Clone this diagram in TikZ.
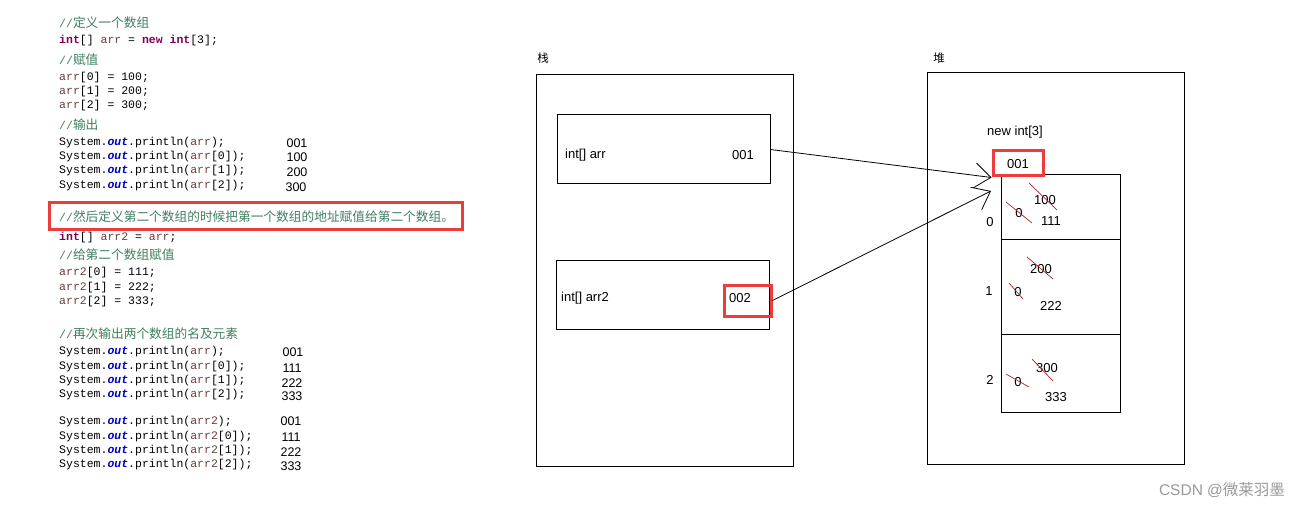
\documentclass[tikz,border=0pt]{standalone}
\usepackage{fontspec}
\setmainfont{Liberation Sans}
\setmonofont{Liberation Mono}
\newfontfamily\cjk{Noto Sans CJK SC}
\usetikzlibrary{arrows.meta,positioning}

\definecolor{cmtgreen}{HTML}{3F7F5F}
\definecolor{kwpurple}{HTML}{7F0055}
\definecolor{fieldblue}{HTML}{0000C0}
\definecolor{varbrown}{HTML}{6A3E3E}
\definecolor{hlred}{HTML}{EE3B3B}
\definecolor{strikered}{HTML}{B22222}

\newcommand{\kw}[1]{\textcolor{kwpurple}{\bfseries #1}}
\newcommand{\fld}[1]{\textcolor{fieldblue}{\bfseries\itshape #1}}
\newcommand{\vname}[1]{\textcolor{varbrown}{#1}}
\newcommand{\cmt}[1]{\textcolor{cmtgreen}{//{\fontsize{12.7}{14}\cjk #1}}}

\begin{document}
\begin{tikzpicture}[
  x=1pt, y=-1pt,
  code/.style={anchor=west, inner sep=0pt, font=\ttfamily\fontsize{11.5}{13}\selectfont},
  outval/.style={inner sep=0pt, font=\fontsize{12.5}{14}\selectfont},
  lbl/.style={inner sep=0pt, font=\fontsize{13}{15}\selectfont},
  zhlbl/.style={inner sep=0pt, font=\fontsize{11.5}{13}\cjk},
  frame/.style={draw, line width=1pt, inner sep=0pt},
  varbox/.style={frame, minimum width=213pt, minimum height=69pt},
  cell/.style={frame, minimum width=119pt},
  hilite/.style={draw=hlred, line width=3pt, inner sep=0pt},
  strike/.style={draw=strikered, line width=0.7pt},
  ref/.style={-{Straight Barb[length=16pt,width=25pt]}, line width=0.8pt}
]
  \useasboundingbox (0,0) rectangle (1307,508);

  % code listing
  \node[code] (cmtdef) at (59,23) {\cmt{定义一个数组}};
  \node[code] (decl) at (59,41) {\kw{int}[] \vname{arr} = \kw{new} \kw{int}[3];};
  \node[code] (cmtset) at (59,60) {\cmt{赋值}};
  \node[code] (set0) at (59,78) {\vname{arr}[0] = 100;};
  \node[code] (set1) at (59,92) {\vname{arr}[1] = 200;};
  \node[code] (set2) at (59,106) {\vname{arr}[2] = 300;};
  \node[code] (cmtout) at (59,125) {\cmt{输出}};
  \node[code] (pa) at (59,143) {System.\fld{out}.println(\vname{arr});};
  \node[code] (pa0) at (59,157) {System.\fld{out}.println(\vname{arr}[0]);};
  \node[code] (pa1) at (59,171) {System.\fld{out}.println(\vname{arr}[1]);};
  \node[code] (pa2) at (59,186) {System.\fld{out}.println(\vname{arr}[2]);};
  \node[outval] (oa) at (297,143) {001};
  \node[outval] (oa0) at (297,157) {100};
  \node[outval] (oa1) at (297,172) {200};
  \node[outval] (oa2) at (296,187) {300};

  \node[hilite, minimum width=413pt, minimum height=27pt] (hlcmt) at (255.5,216) {};
  \node[code] (cmtcopy) at (59,217) {\cmt{然后定义第二个数组的时候把第一个数组的地址赋值给第二个数组。}};
  \node[code] (decl2) at (59,238) {\kw{int}[] \vname{arr2} = \vname{arr};};
  \node[code] (cmtset2) at (59,255) {\cmt{给第二个数组赋值}};
  \node[code] (setb0) at (59,273) {\vname{arr2}[0] = 111;};
  \node[code] (setb1) at (59,288) {\vname{arr2}[1] = 222;};
  \node[code] (setb2) at (59,302) {\vname{arr2}[2] = 333;};

  \node[code] (cmtout2) at (59,334) {\cmt{再次输出两个数组的名及元素}};
  \node[code] (qa) at (59,352) {System.\fld{out}.println(\vname{arr});};
  \node[code] (qa0) at (59,367) {System.\fld{out}.println(\vname{arr}[0]);};
  \node[code] (qa1) at (59,381) {System.\fld{out}.println(\vname{arr}[1]);};
  \node[code] (qa2) at (59,395) {System.\fld{out}.println(\vname{arr}[2]);};
  \node[outval] (ra) at (293,352) {001};
  \node[outval] (ra0) at (292,368) {111};
  \node[outval] (ra1) at (292,383) {222};
  \node[outval] (ra2) at (292,396) {333};

  \node[code] (qb) at (59,422) {System.\fld{out}.println(\vname{arr2});};
  \node[code] (qb0) at (59,437) {System.\fld{out}.println(\vname{arr2}[0]);};
  \node[code] (qb1) at (59,451) {System.\fld{out}.println(\vname{arr2}[1]);};
  \node[code] (qb2) at (59,465) {System.\fld{out}.println(\vname{arr2}[2]);};
  \node[outval] (rb) at (291,421) {001};
  \node[outval] (rb0) at (291,437) {111};
  \node[outval] (rb1) at (291,452) {222};
  \node[outval] (rb2) at (291,466) {333};

  % stack
  \node[zhlbl] (stacklbl) at (543,58) {栈};
  \node[frame, minimum width=257pt, minimum height=391pt] (stack) at (664.5,270.5) {};
  \node[varbox] (arrbox) at (663.5,149.5) {};
  \node[lbl, anchor=west] (arrname) at (565,155) {int[] arr};
  \node[lbl] (arrval) at (743,155) {001};
  \node[varbox] (arr2box) at (662.5,294.5) {};
  \node[lbl, anchor=west] (arr2name) at (561,298) {int[] arr2};
  \node[lbl] (arr2val) at (740,298) {002};
  \node[hilite, minimum width=47pt, minimum height=31pt] (ptr2) at (747.5,300.5) {};

  % heap
  \node[zhlbl] (heaplbl) at (939,58) {堆};
  \node[frame, minimum width=257pt, minimum height=391pt] (heap) at (1055.5,268.5) {};
  \node[lbl] (newarr) at (1015,132) {new int[3]};
  \node[cell, minimum height=64pt] (cell0) at (1060.5,207) {};
  \node[cell, minimum height=95pt] (cell1) at (1060.5,286.5) {};
  \node[cell, minimum height=78pt] (cell2) at (1060.5,373) {};
  \node[hilite, minimum width=50pt, minimum height=25pt] (addr) at (1018,163.5) {};
  \node[lbl] (addrval) at (1018,164) {001};

  \node[lbl] (idx0) at (990,222) {0};
  \node[lbl] (idx1) at (989,291) {1};
  \node[lbl] (idx2) at (990,380) {2};

  \node[lbl] (v0) at (1045,200) {100};
  \node[lbl] (z0) at (1019,213) {0};
  \node[lbl] (w0) at (1051,221) {111};
  \node[lbl] (v1) at (1041,269) {200};
  \node[lbl] (z1) at (1018,292) {0};
  \node[lbl] (w1) at (1051,306) {222};
  \node[lbl] (v2) at (1047,368) {300};
  \node[lbl] (z2) at (1018,382) {0};
  \node[lbl] (w2) at (1056,397) {333};

  % crossed-out values
  \draw[strike] (1029,183) -- (1057,210);
  \draw[strike] (1006,202) -- (1032,223);
  \draw[strike] (1027,257) -- (1053,279);
  \draw[strike] (1009,283) -- (1023,299);
  \draw[strike] (1032,359) -- (1053,381);
  \draw[strike] (1006,374) -- (1029,387);

  % references
  \coordinate (hit) at (991,191);
  \draw[ref] (arrbox.east) -- (addr.south west);
  \draw[ref] (ptr2.east) -- (hit);

  \node[inner sep=0pt, text=black!40, font=\fontsize{15.5}{17}\selectfont] (mark) at (1222,490) {CSDN @{\cjk 微莱羽墨}};
\end{tikzpicture}
\end{document}
